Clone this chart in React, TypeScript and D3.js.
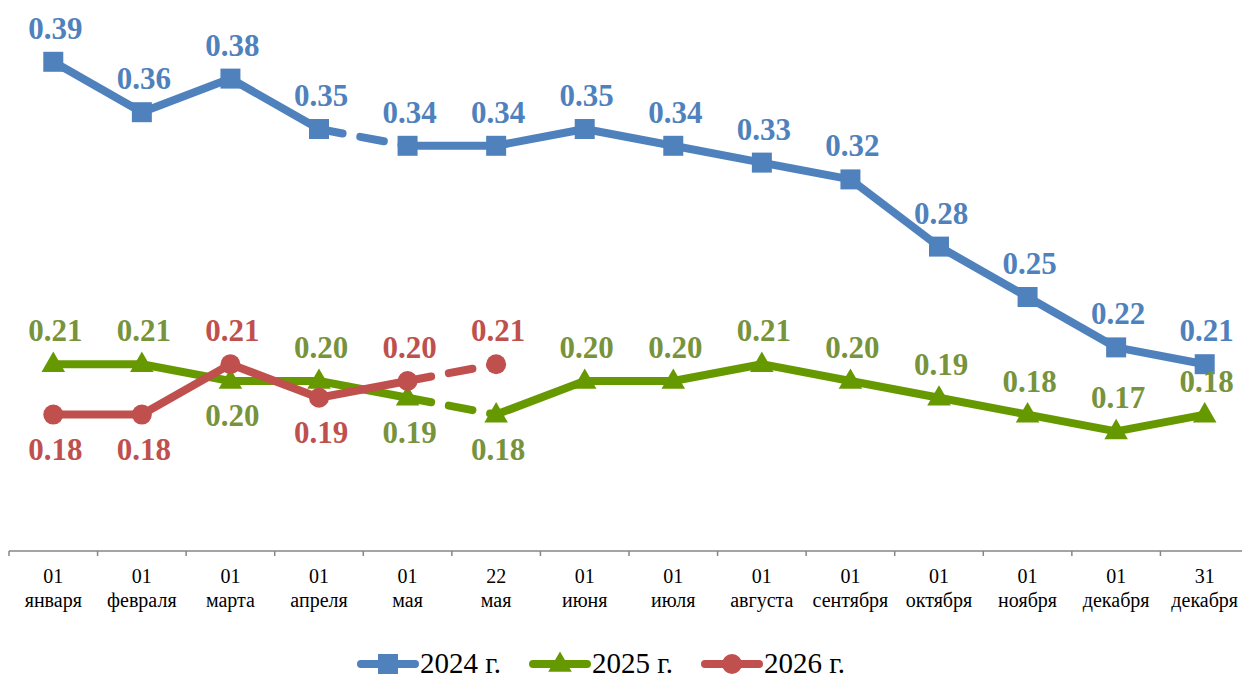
import * as d3 from "d3"
import React = require("react")

const dayLabels = ["01", "01", "01", "01", "01", "22", "01", "01", "01", "01", "01", "01", "01", "31"]
const monthLabels = ["января", "февраля", "марта", "апреля", "мая", "мая", "июня", "июля", "августа", "сентября", "октября", "ноября", "декабря", "декабря"]

const values2024 = [0.39, 0.36, 0.38, 0.35, 0.34, 0.34, 0.35, 0.34, 0.33, 0.32, 0.28, 0.25, 0.22, 0.21]
const values2025 = [0.21, 0.21, 0.20, 0.20, 0.19, 0.18, 0.20, 0.20, 0.21, 0.20, 0.19, 0.18, 0.17, 0.18]
const values2026 = [0.18, 0.18, 0.21, 0.19, 0.20, 0.21]

// which segment (start index) is drawn dashed
const dashed2024 = [3]
const dashed2025 = [4]
const dashed2026 = [4]

// label placement: 1 = above, -1 = below
const place2024 = values2024.map(() => 1)
const place2025 = [1, 1, -1, 1, -1, -1, 1, 1, 1, 1, 1, 1, 1, 1]
const place2026 = [-1, -1, 1, -1, 1, 1]

const legendNames = ["2024 г.", "2025 г.", "2026 г."]

const BLUE = "#4F81BD"
const GREEN = "#669900"
const GREEN_TEXT = "#77933C"
const RED = "#C0504D"
const FONT = "Liberation Serif"

const width = 1242
const height = 679

const x = d3.scaleBand<number>()
    .domain(d3.range(dayLabels.length))
    .range([9, 1249])
const cx = (i: number) => x(i) + x.bandwidth() / 2
const y = d3.scaleLinear().domain([0.1, 0.4]).range([549, 45])

const symFor = (m: string) => m === "square" ? d3.symbolSquare : m === "triangle" ? d3.symbolTriangle : d3.symbolCircle
const sizeFor = (m: string) => m === "square" ? 400 : m === "triangle" ? 240 : 314

const Series = ({ vals, dashed, color, textColor, marker, place }) => {
    const sym = d3.symbol().type(symFor(marker)).size(sizeFor(marker))()
    const dy = marker === "triangle" ? 1 : 0
    return (
        <g>
            {vals.slice(0, -1).map((v, i) => {
                const isDash = dashed.includes(i)
                return (
                    <line key={"s" + i} x1={cx(i)} y1={y(v)} x2={cx(i + 1)} y2={y(vals[i + 1])}
                        stroke={color} strokeWidth={8}
                        strokeLinecap={isDash ? "round" : "butt"}
                        strokeDasharray={isDash ? "24 18" : undefined} />
                )
            })}
            {vals.map((v, i) => (
                <path key={"m" + i} d={sym} fill={color} transform={`translate(${cx(i)},${y(v) + dy})`} />
            ))}
            {vals.map((v, i) => (
                <text key={"l" + i} x={cx(i) + 2} y={y(v) + (place[i] > 0 ? -23 : 45)}
                    textAnchor="middle" fontSize={31} fontWeight="bold" fill={textColor}
                    style={{ fontFamily: FONT }}>{v.toFixed(2)}</text>
            ))}
        </g>
    )
}

const edges = d3.range(dayLabels.length + 1).map(i => i < dayLabels.length ? x(i) : x(i - 1) + x.bandwidth())

export default function App() {
    const legendX = [357, 529, 701]
    const colors = [BLUE, GREEN, RED]
    const markers = ["square", "triangle", "circle"]
    return (
        <svg width={width} height={height} style={{ position: "absolute", left: 0, top: 0, display: "block", fontFamily: FONT }}>
            <g transform="translate(0,551)">
                <line x1={9} x2={1249} y1={0} y2={0} stroke="#868686" strokeWidth={1.5} />
                {edges.map((e, i) => <line key={i} x1={e} x2={e} y1={0} y2={5} stroke="#868686" strokeWidth={1.5} />)}
                {dayLabels.map((d, i) => (
                    <text key={i} textAnchor="middle" fontSize={20} fill="#000" style={{ fontFamily: FONT }}>
                        <tspan x={cx(i)} y={32}>{d}</tspan>
                        <tspan x={cx(i)} y={56}>{monthLabels[i]}</tspan>
                    </text>
                ))}
            </g>
            <Series vals={values2024} dashed={dashed2024} color={BLUE} textColor={BLUE} marker="square" place={place2024} />
            <Series vals={values2025} dashed={dashed2025} color={GREEN} textColor={GREEN_TEXT} marker="triangle" place={place2025} />
            <Series vals={values2026} dashed={dashed2026} color={RED} textColor={RED} marker="circle" place={place2026} />
            <g>
                {legendNames.map((name, i) => {
                    const lx = legendX[i]
                    return (
                        <g key={i}>
                            <line x1={lx + 4} x2={lx + 58} y1={664} y2={664} stroke={colors[i]} strokeWidth={8} strokeLinecap="round" />
                            <path d={d3.symbol().type(symFor(markers[i])).size(sizeFor(markers[i]))()} fill={colors[i]}
                                transform={`translate(${lx + 31},${664 + (i === 1 ? 1 : 0)})`} />
                            <text x={lx + 63} y={673} fontSize={29} fill="#000" style={{ fontFamily: FONT }}>{name}</text>
                        </g>
                    )
                })}
            </g>
        </svg>
    )
}
